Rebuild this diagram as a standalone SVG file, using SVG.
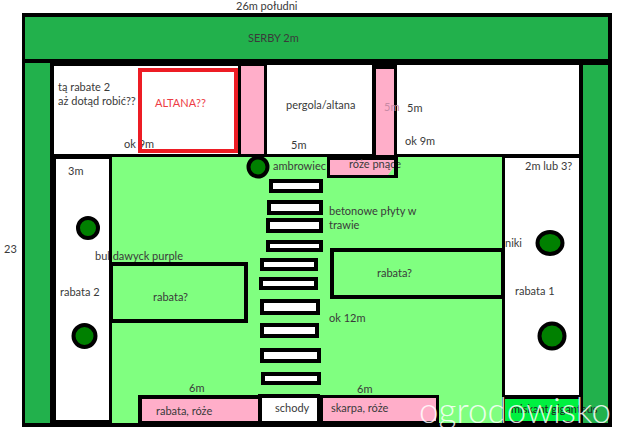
<svg xmlns="http://www.w3.org/2000/svg" width="640" height="440" viewBox="0 0 640 440">
<style>
text{font-family:"Lato","Open Sans","Liberation Sans",sans-serif;font-size:11px;fill:#3a3a3a}
.k{fill:#000}.w{fill:#fff}.h{fill:#22b14c}.l{fill:#80ff80}.p{fill:#ffaec9}
.t{fill:#008000;stroke:#000;stroke-width:4}
.s{fill:#fff;stroke:#000;stroke-width:4}
</style>
<rect width="640" height="440" fill="#fff"/>
<g id="plot">
<rect class="k" x="22" y="13" width="590" height="414"/>
<rect class="l" x="112" y="157" width="390" height="266"/>
</g>
<g id="hedges">
<rect class="h" x="25" y="17" width="583" height="42"/>
<rect class="h" x="25" y="63" width="25" height="360"/>
<rect class="h" x="583" y="65" width="25" height="358"/>
<text x="248" y="42" fill="#1c5c30">SERBY 2m</text>
</g>
<g id="top-beds">
<rect class="w" x="54" y="66" width="184" height="88"/>
<rect class="p" x="241" y="66" width="23" height="88"/>
<rect class="w" x="267" y="65" width="105" height="89"/>
<rect class="p" x="376" y="69" width="18" height="86"/>
<rect class="w" x="397" y="65" width="182" height="89"/>
<text x="58" y="91">tą rabate 2</text>
<text x="58" y="105">aż dotąd robić??</text>
<text x="124" y="148">ok 9m</text>
<text x="291" y="149">5m</text>
<text x="286" y="109">pergola/altana</text>
<text x="384" y="111" style="fill:#c98aa5">5m</text>
<text x="407" y="112">5m</text>
<text x="405" y="145">ok 9m</text>
</g>
<g id="altana">
<rect x="140" y="70" width="96" height="81" fill="none" stroke="#ed1c24" stroke-width="4"/>
<text x="155" y="107" style="fill:#ed3c44">ALTANA??</text>
</g>
<g id="rabata-2">
<rect class="w" x="56" y="159" width="53" height="261"/>
<text x="68" y="175">3m</text>
<text x="60" y="296">rabata 2</text>
<circle class="t" cx="88" cy="228" r="10"/>
<circle class="t" cx="84.500" cy="336" r="11"/>
</g>
<g id="rabata-1">
<rect class="w" x="505" y="158" width="74" height="237"/>
<text x="525" y="170">2m lub 3?</text>
<text x="515" y="295">rabata 1</text>
<text x="505" y="247">niki</text>
<ellipse class="t" cx="550" cy="243" rx="12.500" ry="11"/>
<circle class="t" cx="552" cy="336" r="12.500"/>
</g>
<g id="ambrowiec">
<text x="273" y="170">ambrowiec</text>
<circle class="t" cx="258" cy="167" r="9.500"/>
</g>
<g id="roze-pnace">
<rect class="k" x="327" y="156" width="71" height="22"/>
<rect class="p" x="330" y="160" width="64" height="15"/>
<path d="M394 167V175H388Z" fill="#80ff80"/>
<text x="349" y="168">róże pnące</text>
<rect class="k" x="394" y="156" width="4" height="22"/>
</g>
<g id="plyty">
<rect class="s" x="271" y="181" width="50" height="10"/>
<rect class="s" x="269" y="202" width="52" height="11"/>
<rect class="s" x="268" y="220" width="53" height="11"/>
<rect class="s" x="268" y="242" width="53" height="8"/>
<rect class="s" x="262" y="260" width="54" height="9"/>
<rect class="s" x="261" y="279" width="55" height="9"/>
<rect class="s" x="262" y="301" width="56" height="12"/>
<rect class="s" x="262" y="325" width="55" height="11"/>
<rect class="s" x="262" y="350" width="57" height="11"/>
<rect class="s" x="263" y="374" width="56" height="9"/>
<text x="329" y="215">betonowe płyty w</text>
<text x="329" y="229">trawie</text>
</g>
<g id="rabata-lewa">
<text x="95" y="260">bul  dawyck purple</text>
<rect class="k" x="109" y="157" width="3" height="266"/>
<rect x="111" y="264" width="135" height="57" fill="#80ff80" stroke="#000" stroke-width="4"/>
<text x="153" y="301">rabata?</text>
</g>
<g id="rabata-prawa">
<rect x="332" y="250" width="171" height="47" fill="#80ff80" stroke="#000" stroke-width="4"/>
<text x="377" y="277">rabata?</text>
<text x="329" y="322">ok 12m</text>
</g>
<g id="dol">
<text x="189" y="392">6m</text>
<text x="357" y="393">6m</text>
<rect class="k" x="138" y="395" width="301" height="32"/>
<rect class="p" x="142" y="399" width="116" height="22"/>
<rect class="w" x="262" y="398" width="55" height="23"/>
<rect class="k" x="258" y="394" width="62" height="4"/>
<rect class="p" x="323" y="398" width="113" height="23"/>
<text x="156" y="415">rabata, róże</text>
<text x="275" y="412">schody</text>
<text x="331" y="412">skarpa, róże</text>
</g>
<g id="miskant">
<rect x="505" y="399" width="74" height="22" fill="#00f040"/>
<text x="511" y="413" style="fill:#222">miskant giganteus</text>
<rect class="k" x="579" y="395" width="4" height="32"/>
</g>
<g id="wymiary">
<text x="236" y="10">26m południ</text>
<text x="4" y="253">23</text>
</g>
<g id="watermark">
<text x="419" y="423" textLength="192" lengthAdjust="spacingAndGlyphs" style="font-size:35px;font-weight:300;fill:#fff;fill-opacity:.85">ogrodowisko</text>
</g>
</svg>
